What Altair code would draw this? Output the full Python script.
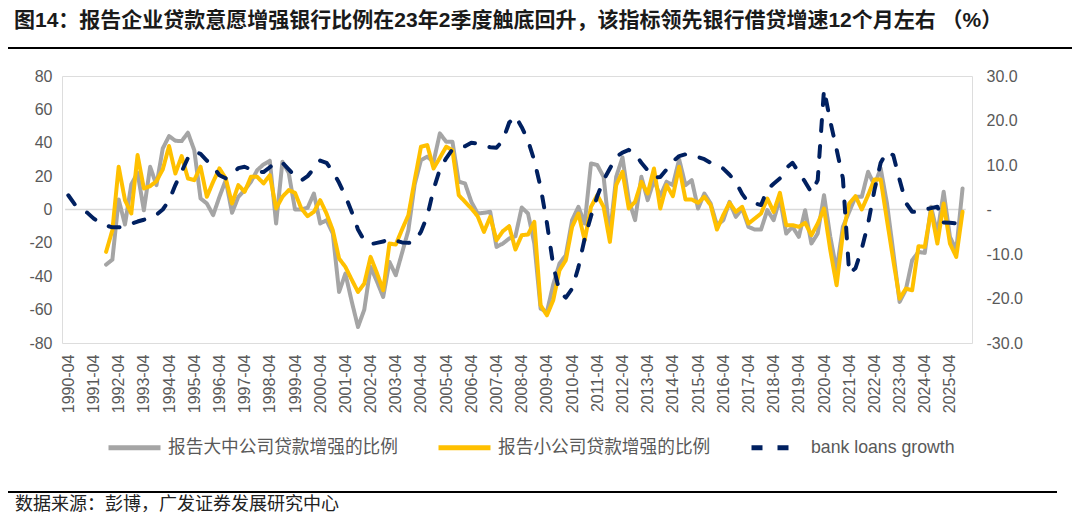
import altair as alt
import pandas as pd

# quarter index: 0 = 1990-04, 1 = 1990-07, ... (quarterly survey dates)
large_mid = [None] * 6 + [
    -33.0, -30.0, 6.0, -9.0, 15.0, 22.0, -0.5, 25.6, 14.6, 36.6,
    44.0, 41.2, 41.0, 46.0, 35.6, 6.6, 3.6, -3.4, 7.6, 17.6,
    -2.0, 7.6, 11.6, 16.6, 23.6, 27.0, 29.2, -8.4, 28.6, 22.0,
    0.0, 0.0, 1.0, 9.6, -8.4, -6.4, -14.4, -49.4, -38.4, -55.0,
    -70.4, -60.0, -34.4, -43.0, -52.4, -31.4, -39.4, -26.0, -12.4, 15.0,
    29.6, 31.6, 28.6, 45.6, 40.6, 40.6, 16.6, 15.6, 4.6, -2.4,
    -2.0, -1.4, -22.4, -20.4, -17.4, -16.0, 1.2, -2.4, -20.4, -59.4,
    -61.4, -45.0, -32.4, -27.4, -6.4, 1.6, -8.4, 27.6, 26.6, 19.6,
    -15.4, 19.6, 31.2, 5.6, -6.4, 19.6, 5.6, 17.6, 8.0, 16.6,
    14.6, 30.0, 14.6, 17.6, 0.6, 9.6, 3.6, -9.4, -6.4, 4.6,
    -4.4, 0.6, -10.4, -12.0, -12.0, -0.4, -6.4, 6.6, -14.4, -10.4,
    -16.4, -0.4, -20.4, -14.4, 8.6, -16.4, -36.4, -10.4, -1.4, 7.6,
    7.6, 22.6, 14.6, 24.6, 3.6, -25.4, -55.4, -48.0, -30.4, -25.4,
    -26.0, 1.6, -14.4, 10.6, -16.4, -24.4, 12.6,
]
small = [None] * 6 + [
    -25.4, -12.4, 25.6, 5.6, -2.4, 32.6, 12.6, 14.0, 17.0, 24.0,
    38.0, 21.6, 32.0, 18.6, 17.6, 25.6, 7.6, 16.6, 24.6, 18.6,
    3.6, 14.6, 10.6, 19.6, 19.6, 15.6, 20.6, 0.6, 7.6, 11.6,
    10.0, 0.6, -4.0, -1.4, 5.6, -2.4, -12.4, -29.4, -34.4, -42.0,
    -49.4, -44.4, -28.4, -38.0, -48.4, -20.4, -21.0, -12.0, -3.4, 17.6,
    37.6, 38.6, 24.6, 31.0, 37.6, 35.6, 8.6, 4.6, 0.6, -4.0,
    -13.4, -4.4, -18.4, -13.0, -10.0, -24.0, -15.4, -15.0, -7.4, -57.4,
    -63.4, -54.4, -36.4, -30.4, -10.4, -2.4, -18.4, 1.6, 8.6, 1.6,
    -19.4, 14.6, 22.6, 0.6, 4.6, 16.6, 9.6, 24.6, 0.6, 14.6,
    8.0, 25.6, 6.0, 6.0, 4.0, 7.6, 2.6, -12.0, -3.4, 4.0,
    -1.4, 1.6, -8.4, -5.4, -2.4, 6.6, -1.4, 10.0, -9.4, -9.4,
    -10.4, -8.0, -15.4, -8.4, 0.6, -24.4, -45.4, -14.4, 3.6, 8.0,
    0.0, 8.6, 18.0, 18.0, -6.4, -30.4, -53.4, -47.4, -48.4, -22.0,
    -22.4, -0.4, -20.4, 3.6, -20.4, -28.4, -1.4,
]
loans = [
    3.2, 1.2, 0.0, -0.7, -2.0, -3.0, -3.6, -4.0, -4.0, -3.8,
    -3.2, -2.7, -2.3, -1.8, -1.2, 0.0, 2.0, 5.5, 8.5, 11.6,
    13.0, 12.5, 11.0, 9.6, 7.7, 7.0, 7.8, 9.3, 9.6, 9.0,
    8.5, 8.4, 9.5, 10.7, 10.5, 9.0, 7.5, 6.5, 7.5, 9.2,
    11.0, 10.5, 8.5, 6.0, 3.0, -0.5, -4.5, -7.0, -7.8, -7.5,
    -7.2, -6.6, -7.0, -7.4, -7.5, -7.2, -5.0, -1.5, 4.5, 9.0,
    11.5, 13.5, 13.9, 14.2, 15.0, 14.8, 14.3, 14.0, 13.9, 15.5,
    19.5, 21.0, 18.5, 15.5, 11.0, 5.0, -3.0, -12.5, -18.5, -19.8,
    -17.8, -13.0, -6.5, -1.5, 3.0, 6.6, 9.2, 11.8, 12.8, 13.4,
    12.5, 10.5, 8.8, 7.2, 7.3, 9.0, 10.8, 12.0, 12.4, 12.3,
    11.8, 11.3, 10.5, 10.0, 9.2, 7.8, 6.2, 3.5, 1.6, 1.4,
    1.0, 4.5, 5.8, 7.0, 9.3, 10.5, 8.3, 6.2, 3.8, 6.6,
    27.0, 19.8, 13.5, 7.0, -14.4, -13.2, -8.8, -3.2, 4.3, 10.5,
    13.0, 12.2, 6.7, 1.5, -0.5, -0.6, 0.0, 0.3, 0.6, -2.9,
    -3.0, -3.1,
]
names = ["报告大中公司贷款增强的比例", "报告小公司贷款增强的比例", "bank loans growth"]
colors = ["#a5a5a5", "#ffc000", "#002060"]
dashes = [[1, 0], [1, 0], [11, 15]]
year_ticks = list(range(0, 141, 4))

title_text = "图14：报告企业贷款意愿增强银行比例在23年2季度触底回升，该指标领先银行借贷增速12个月左右 （%）"
source_text = "数据来源：彭博，广发证券发展研究中心"

rows = []
for name, vals in ((names[0], large_mid), (names[1], small)):
    for q, v in enumerate(vals):
        if v is not None:
            rows.append({"q": q, "value": v, "series": name})
left_df = pd.DataFrame(rows)
right_df = pd.DataFrame({"q": list(range(len(loans))), "growth": loans, "series": names[2]})

AX_FONT = "Liberation Sans"
AX_COLOR = "#595959"
MIX_FONT = "Liberation Sans, Noto Sans CJK SC"

legend = alt.Legend(
    orient="none", legendX=44, legendY=343, direction="horizontal", columns=3,
    symbolType="stroke", symbolSize=2704, symbolStrokeWidth=5,
    labelFont=MIX_FONT, labelFontSize=17.7,
    labelColor=AX_COLOR, columnPadding=30, labelOffset=5, labelLimit=400, padding=0,
)
color = alt.Color("series:N", title=None,
                  scale=alt.Scale(domain=names, range=colors), legend=legend)
dash = alt.StrokeDash("series:N", title=None,
                      scale=alt.Scale(domain=names, range=dashes), legend=legend)

x_enc = alt.X(
    "q:Q",
    scale=alt.Scale(domain=[-1, 143.5], nice=False, zero=False),
    axis=alt.Axis(values=year_ticks, tickCount=60,
                  labelExpr="toString(1990 + datum.value / 4) + '-04'",
                  labelAngle=270, labelFlush=False, labelOverlap=False, labelBound=False,
                  ticks=False, domain=False, grid=False, title=None,
                  labelFont=AX_FONT, labelFontSize=16, labelColor=AX_COLOR, labelPadding=11),
)

y_left_scale = alt.Scale(domain=[-80, 80], nice=False)
y_left_axis = alt.Axis(values=list(range(-80, 81, 20)), tickCount=20, title=None, grid=False,
                       domain=False, ticks=False, labelFont=AX_FONT, labelFontSize=16,
                       labelColor=AX_COLOR, labelPadding=10, labelOverlap=False,
                       labelExpr="(datum.value < 0 ? '-' : '') + abs(datum.value)")

lines_left = alt.Chart(left_df).mark_line(strokeWidth=4, strokeJoin="round", strokeCap="round").encode(
    x=x_enc,
    y=alt.Y("value:Q", scale=y_left_scale, axis=y_left_axis),
    color=color,
    strokeDash=dash,
    detail="series:N",
)

zero = alt.Chart(pd.DataFrame({"z": [0]})).mark_rule(color="#d9d9d9", strokeWidth=1.5).encode(
    y=alt.Y("z:Q", scale=y_left_scale, axis=y_left_axis),
    x=alt.datum(-0.5),
    x2=alt.datum(142.5),
)

one = pd.DataFrame({"a": [0]})
title_mark = alt.Chart(one).mark_text(
    text=title_text, align="left", baseline="middle", font=MIX_FONT,
    fontSize=21, fontWeight="bold", color="#1a1a1a",
).encode(x=alt.value(-48), y=alt.value(-55))
top_rule = alt.Chart(one).mark_rule(color="#000000", strokeWidth=2).encode(
    x=alt.value(-59), x2=alt.value(1013), y=alt.value(-28))
bottom_rule = alt.Chart(one).mark_rule(color="#000000", strokeWidth=2).encode(
    x=alt.value(-59), x2=alt.value(995), y=alt.value(416))
source_mark = alt.Chart(one).mark_text(
    text=source_text, align="left", baseline="middle", font=MIX_FONT,
    fontSize=18, color="#222222",
).encode(x=alt.value(-47), y=alt.value(429))

left = alt.layer(zero, lines_left, title_mark, top_rule, bottom_rule, source_mark)

right = alt.Chart(right_df).mark_line(strokeWidth=4, strokeCap="round", strokeJoin="round").encode(
    x=x_enc,
    y=alt.Y("growth:Q", scale=alt.Scale(domain=[-30, 30], nice=False),
            axis=alt.Axis(orient="right", values=[-30, -20, -10, 0, 10, 20, 30], tickCount=20,
                          title=None, grid=False, domain=False, ticks=False, labelFont=AX_FONT,
                          labelFontSize=16, labelColor=AX_COLOR, labelPadding=14,
                          labelOverlap=False,
                          labelExpr="datum.value == 0 ? '-' : (datum.value < 0 ? '-' : '') + format(abs(datum.value), '.1f')")),
    color=color,
    strokeDash=dash,
)

chart = alt.layer(left, right).resolve_scale(y="independent").properties(
    width=910, height=267,
    padding={"left": 54, "top": 68, "right": 100, "bottom": 172},
    autosize=alt.AutoSizeParams(type="none"),
).configure_view(stroke=None).configure(background="white")

chart.save("out.html", embed_options={"renderer": "svg", "actions": False})
